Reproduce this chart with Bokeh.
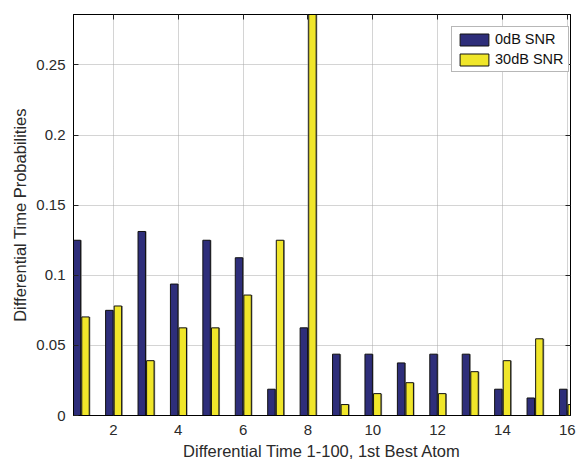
from bokeh.plotting import figure
from bokeh.models import (ColumnDataSource, FixedTicker, LinearAxis, Range1d,
                          Legend, LegendItem)
from bokeh.embed import file_html
from bokeh.resources import INLINE

# ---- data ----
bins = list(range(1, 17))
snr0 = [0.125, 0.075, 0.13125, 0.09375, 0.125, 0.1125, 0.01875, 0.0625,
        0.04375, 0.04375, 0.0375, 0.04375, 0.04375, 0.01875, 0.0125, 0.01875]
snr30 = [0.0703, 0.0781, 0.0391, 0.0625, 0.0625, 0.0859, 0.125, 0.31,
         0.0078, 0.0156, 0.0234, 0.0156, 0.03125, 0.0391, 0.0547, 0.0078]
series_names = ["0dB SNR", "30dB SNR"]
x_ticks = [2, 4, 6, 8, 10, 12, 14, 16]
y_ticks = [0, 0.05, 0.1, 0.15, 0.2, 0.25]
y_tick_labels = ["0", "0.05", "0.1", "0.15", "0.2", "0.25"]

FONT = "Liberation Sans"
BLUE = "#2e2e7a"
YELLOW = "#f0e62a"
SHADOW = "#8c8c8c"

src = ColumnDataSource(dict(
    x0=[b - 0.125 for b in bins], x1=[b + 0.14 for b in bins],
    s0=[b - 0.125 + 0.05 for b in bins], s1=[b + 0.14 + 0.05 for b in bins],
    y0=snr0, y1=snr30))

p = figure(width=576, height=463, output_backend="svg", toolbar_location=None,
           x_range=Range1d(0.77, 16.1), y_range=Range1d(0, 0.286),
           min_border_left=73, min_border_right=6, min_border_top=14,
           min_border_bottom=48)

# bar shadows
p.vbar(x="s0", top="y0", width=0.2, source=src, fill_color=SHADOW,
       line_color=None)
p.vbar(x="s1", top="y1", width=0.2, source=src, fill_color=SHADOW,
       line_color=None)
r0 = p.vbar(x="x0", top="y0", width=0.23, source=src, fill_color=BLUE,
            line_color="#111111", line_width=1)
r1 = p.vbar(x="x1", top="y1", width=0.23, source=src, fill_color=YELLOW,
            line_color="#111111", line_width=1)

p.outline_line_color = "black"
p.outline_line_alpha = 1
p.outline_line_width = 1

for ax in (p.xaxis[0], p.yaxis[0]):
    ax.axis_line_color = "black"
    ax.major_tick_in = 5
    ax.major_tick_out = 0
    ax.minor_tick_line_color = None
    ax.major_tick_line_color = "#222222"
    ax.major_label_text_font = FONT
    ax.major_label_text_font_size = "15px"
    ax.major_label_text_color = "#2a2a2a"
    ax.axis_label_text_font = FONT
    ax.axis_label_text_font_size = "16.5px"
    ax.axis_label_text_font_style = "normal"
    ax.axis_label_text_color = "#2a2a2a"

p.xaxis.ticker = FixedTicker(ticks=x_ticks)
p.yaxis.ticker = FixedTicker(ticks=y_ticks)
p.yaxis.major_label_overrides = {t: l for t, l in zip(y_ticks, y_tick_labels)}
p.xaxis.axis_label = "Differential Time 1-100, 1st Best Atom"
p.yaxis.axis_label = "Differential Time Probabilities"
p.xaxis.major_label_standoff = 9
p.xaxis.axis_label_standoff = 4
p.yaxis.major_label_standoff = 8
p.yaxis.axis_label_standoff = 4

# mirrored ticks on top and right (no labels)
for side, tk in (("above", x_ticks), ("right", y_ticks)):
    a = LinearAxis(ticker=FixedTicker(ticks=tk), major_tick_in=5,
                   major_tick_out=0, minor_tick_line_color=None,
                   major_label_overrides={t: "" for t in tk},
                   major_label_standoff=0,
                   axis_line_color="black", major_tick_line_color="#222222")
    p.add_layout(a, side)

p.xgrid.ticker = FixedTicker(ticks=x_ticks)
p.ygrid.ticker = FixedTicker(ticks=y_ticks)
for g in (p.xgrid[0], p.ygrid[0]):
    g.grid_line_color = "#a8a8a8"
    g.grid_line_dash = "1 1"
    g.grid_line_width = 1

legend = Legend(items=[LegendItem(label=series_names[0], renderers=[r0]),
                       LegendItem(label=series_names[1], renderers=[r1])],
                location=(378, 343))
legend.label_text_font = FONT
legend.label_text_font_size = "14.5px"
legend.label_text_color = "#111111"
legend.glyph_width = 36
legend.glyph_height = 15
legend.label_standoff = 3
legend.spacing = 4
legend.padding = 4
legend.margin = 0
legend.border_line_color = "#707070"
legend.border_line_width = 1
legend.background_fill_alpha = 1
legend.label_height = 15
p.add_layout(legend, "center")

open("out.html", "w").write(file_html(p, INLINE))
